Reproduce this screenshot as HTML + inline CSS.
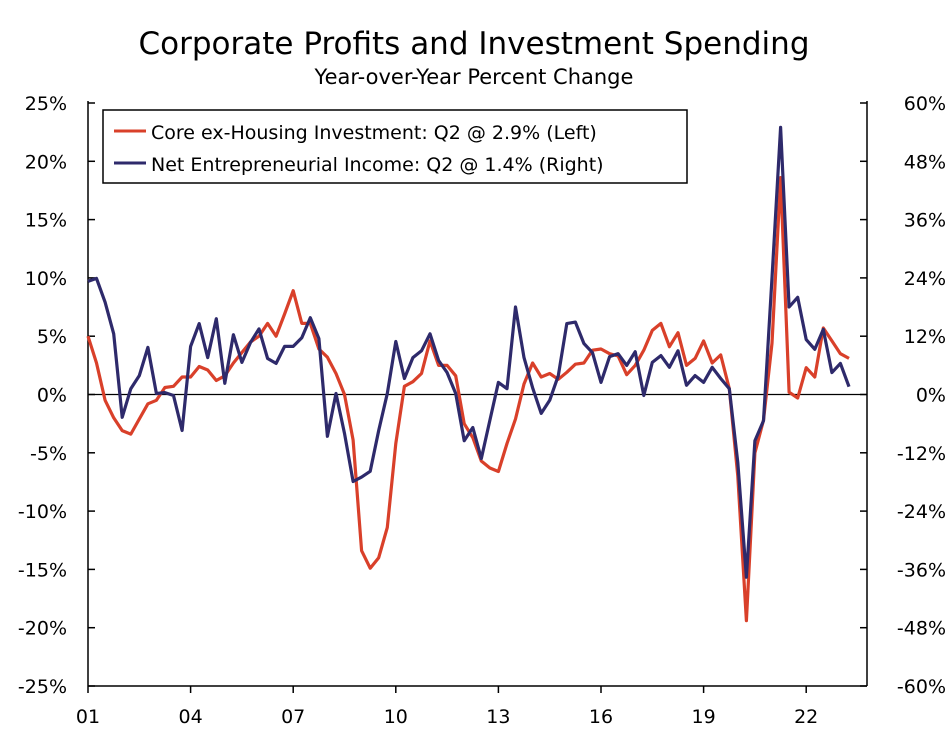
<!DOCTYPE html>
<html><head><meta charset="utf-8"><style>
body{margin:0;background:#fff;}
svg text{font-family:"DejaVu Sans","Liberation Sans",sans-serif;fill:#000;}
</style></head><body>
<svg id="chart" width="949" height="727" xmlns="http://www.w3.org/2000/svg">
<text x="474" y="54" text-anchor="middle" font-size="31">Corporate Profits and Investment Spending</text>
<text x="474" y="84" text-anchor="middle" font-size="21">Year-over-Year Percent Change</text>
<g id="axes"></g>
<g id="series"></g>
<g>
<rect x="103" y="110" width="584" height="73" fill="#fff" stroke="#000" stroke-width="1.5"/>
<line x1="114" y1="131" x2="146" y2="131" stroke="#d9402a" stroke-width="3"/>
<text x="151" y="139" font-size="19">Core ex-Housing Investment: Q2 @ 2.9% (Left)</text>
<line x1="114" y1="163" x2="146" y2="163" stroke="#2e2a6b" stroke-width="3"/>
<text x="151" y="171" font-size="19">Net Entrepreneurial Income: Q2 @ 1.4% (Right)</text>
</g>
</svg>
<script>
const leftTicks=[25,20,15,10,5,0,-5,-10,-15,-20,-25];
const rightTicks=[60,48,36,24,12,0,-12,-24,-36,-48,-60];
const yearLabels=["01","04","07","10","13","16","19","22"];
const investment=[5.0,2.7,-0.5,-2,-3.1,-3.4,-2.1,-0.8,-0.5,0.6,0.7,1.5,1.5,2.4,2.1,1.2,1.6,2.7,3.6,4.5,5,6.1,5.0,6.9,8.9,6.1,6.1,3.9,3.2,1.8,0,-3.9,-13.4,-14.9,-14,-11.4,-4.2,0.7,1.1,1.8,4.6,2.5,2.5,1.6,-2.5,-3.7,-5.7,-6.3,-6.6,-4.2,-2.1,0.9,2.7,1.5,1.8,1.3,1.9,2.6,2.7,3.8,3.9,3.5,3.3,1.7,2.5,3.8,5.5,6.1,4.1,5.3,2.5,3.1,4.6,2.7,3.4,0.5,-7,-19.4,-5,-2.2,4.4,18.6,0.2,-0.3,2.3,1.5,5.7,4.6,3.5,3.1];
const income=[23.3,23.9,19,12.5,-4.7,1.2,3.9,9.7,0.2,0.4,-0.2,-7.4,9.9,14.6,7.6,15.6,2.3,12.3,6.6,10.7,13.5,7.4,6.4,9.9,9.9,11.7,15.8,11.5,-8.6,0.2,-8,-17.9,-17,-15.8,-7.4,0.2,10.9,3.3,7.6,9,12.5,7,4.5,0.2,-9.5,-6.8,-13.2,-5.3,2.5,1.2,18,7.6,1.4,-3.9,-1.2,3.9,14.6,14.9,10.5,8.6,2.5,7.8,8.4,6,8.8,-0.2,6.6,8,5.6,9,1.9,3.9,2.5,5.6,3.3,1.2,-14,-37.6,-9.5,-5.4,24,55,18,20,11.3,9.3,13.4,4.5,6.4,1.6];
const X0=88,X1=867,YT=103,YB=686;
const step=8.55;
const xq=i=>X0+i*step;
const yL=v=>YT+(25-v)/50*(YB-YT);
const yR=v=>YT+(60-v)/120*(YB-YT);
const NS="http://www.w3.org/2000/svg";
const axes=document.getElementById('axes'),ser=document.getElementById('series');
function mk(tag,attrs,parent){const e=document.createElementNS(NS,tag);for(const k in attrs)e.setAttribute(k,attrs[k]);parent.appendChild(e);return e;}
let e;
e=mk('line',{x1:X0,y1:YT-2,x2:X0,y2:YB,stroke:'#000','stroke-width':1.5},axes);


e=mk('line',{x1:X1,y1:YT-2,x2:X1,y2:YB,stroke:'#000','stroke-width':1.5},axes);


e=mk('line',{x1:X0,y1:YB,x2:X1,y2:YB,stroke:'#000','stroke-width':1.5},axes);


e=mk('line',{x1:X0,y1:yL(0),x2:X1,y2:yL(0),stroke:'#000','stroke-width':1.2},axes);


leftTicks.forEach(v=>{const y=yL(v);
 mk('line',{x1:X0,y1:y,x2:X0+7,y2:y,stroke:'#000','stroke-width':1.5},axes);
 const t=mk('text',{x:67,y:y+7,'text-anchor':'end','font-size':19},axes);t.textContent=v+'%';
 
 
});
rightTicks.forEach(v=>{const y=yR(v);
 mk('line',{x1:X1-7,y1:y,x2:X1,y2:y,stroke:'#000','stroke-width':1.5},axes);
 const t=mk('text',{x:946,y:y+7,'text-anchor':'end','font-size':19},axes);t.textContent=v+'%';
 
 
});
yearLabels.forEach((lab,k)=>{const x=xq(k*12);
 mk('line',{x1:x,y1:YB,x2:x,y2:YB+7,stroke:'#000','stroke-width':1.5},axes);
 const t=mk('text',{x:x,y:723,'text-anchor':'middle','font-size':19},axes);t.textContent=lab;
 
 
});
function line(arr,yf,color,name){
 const pts=arr.map((v,i)=>xq(i).toFixed(1)+','+yf(v).toFixed(1)).join(' ');
 const p=mk('polyline',{points:pts,fill:'none',stroke:color,'stroke-width':3.2,'stroke-linejoin':'round'},ser);
 
 
}
line(investment,yL,'#d9402a','investment-line');
line(income,yR,'#2e2a6b','income-line');
</script>
</body></html>
